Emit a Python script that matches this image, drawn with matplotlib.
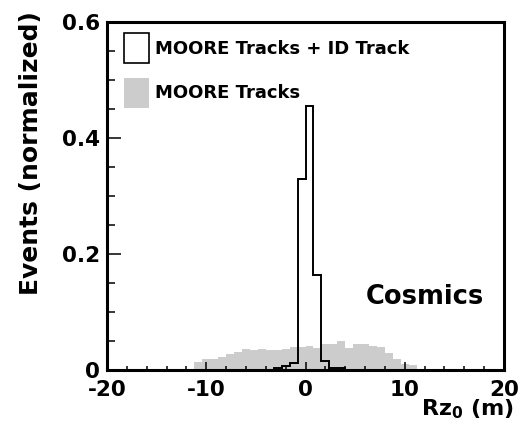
import numpy as np
import matplotlib
matplotlib.use("Agg")
import matplotlib.pyplot as plt
from matplotlib.patches import Patch
from matplotlib.ticker import MultipleLocator

plt.rcParams["font.family"] = ["DejaVu Sans"]
plt.rcParams["font.weight"] = "bold"
plt.rcParams["mathtext.fontset"] = "dejavusans"

# Binning: 0.8 m bins on [-20, 20]
bin_width = 0.8

# MOORE tracks only (normalized), bins starting at -11.2 m
moore_start = -11.2
moore_vals = [0.0143, 0.0184, 0.0190, 0.0230, 0.0276, 0.0316, 0.0356,
              0.0340, 0.0356, 0.0350, 0.0340, 0.0370, 0.0397, 0.0400,
              0.0414, 0.0385, 0.0448, 0.0448, 0.0500, 0.0385, 0.0448,
              0.0440, 0.0410, 0.0400, 0.0300, 0.0190, 0.0100, 0.0090]

# MOORE tracks matched to an ID track (normalized), bins starting at -3.2 m
matched_start = -3.2
matched_vals = [0.003, 0.007, 0.0115, 0.330, 0.455, 0.164, 0.0155, 0.004, 0.004]

x_ticks = [-20, -10, 0, 10, 20]
x_tick_labels = ["-20", "-10", "0", "10", "20"]
y_ticks = [0, 0.2, 0.4, 0.6]
y_tick_labels = ["0", "0.2", "0.4", "0.6"]

label_matched = "MOORE Tracks + ID Track"
label_moore = "MOORE Tracks"

fig = plt.figure(figsize=(5.2, 4.32), dpi=100)
ax = fig.add_axes([0.2058, 0.1435, 0.7635, 0.8055])

moore_edges = moore_start + bin_width * np.arange(len(moore_vals) + 1)
matched_edges = matched_start + bin_width * np.arange(len(matched_vals) + 1)

gray = "#cccccc"
ax.stairs(moore_vals, moore_edges, fill=True, color=gray, linewidth=0, zorder=1)
ax.stairs(matched_vals, matched_edges, fill=False, color="black",
          linewidth=1.4, zorder=2)

ax.set_xlim(-20, 20)
ax.set_ylim(0, 0.6)

ax.set_xticks(x_ticks)
ax.set_xticklabels(x_tick_labels)
ax.set_yticks(y_ticks)
ax.set_yticklabels(y_tick_labels)
ax.xaxis.set_minor_locator(MultipleLocator(2))
ax.yaxis.set_minor_locator(MultipleLocator(0.05))

ax.tick_params(axis="both", which="both", direction="in", top=False,
               right=False, labelsize=15.5, width=1.1, colors="black")
ax.tick_params(axis="x", which="major", length=5.8, pad=7)
ax.tick_params(axis="x", which="minor", length=3.0)
ax.tick_params(axis="y", which="major", length=10, pad=5)
ax.tick_params(axis="y", which="minor", length=5.5)

for spine in ax.spines.values():
    spine.set_linewidth(2.2)

ax.set_ylabel("Events (normalized)", fontsize=18, fontweight="bold", loc="top")
ax.yaxis.set_label_coords(-0.16, 1.03)
ax.set_xlabel(r"Rz$_\mathbf{0}$ (m)", fontsize=16, fontweight="bold", loc="right")
ax.xaxis.set_label_coords(1.025, -0.08)

ax.text(12.0, 0.126, "Cosmics", fontsize=18.5, fontweight="bold",
        ha="center", va="center")

handles = [Patch(facecolor="white", edgecolor="black", linewidth=1.2,
                 label=label_matched),
           Patch(facecolor=gray, edgecolor=gray, linewidth=0,
                 label=label_moore)]
ax.legend(handles=handles, loc="upper left", bbox_to_anchor=(0.043, 0.968),
          frameon=False, handlelength=1.38, handleheight=2.15,
          handletextpad=0.33, labelspacing=0.84, borderpad=0,
          borderaxespad=0, prop={"weight": "bold", "size": 13})

fig.savefig("out.png", dpi=100, facecolor="white")
